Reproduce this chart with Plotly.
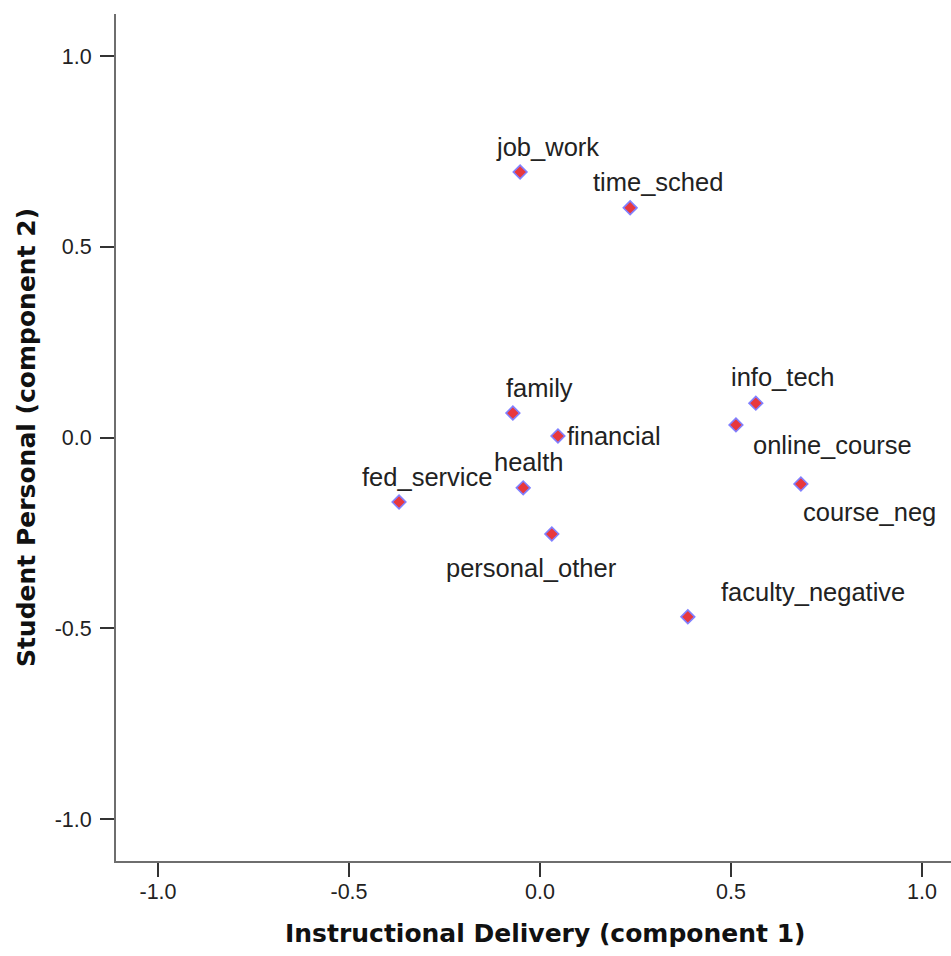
import plotly.graph_objects as go

labels = ["job_work", "time_sched", "family", "financial", "health", "fed_service",
          "personal_other", "info_tech", "online_course", "course_neg", "faculty_negative"]
comp1 = [-0.052, 0.236, -0.071, 0.047, -0.044, -0.369, 0.031, 0.565, 0.513, 0.683, 0.387]
comp2 = [0.696, 0.602, 0.064, 0.004, -0.132, -0.169, -0.253, 0.090, 0.033, -0.122, -0.470]
xticks = [-1.0, -0.5, 0.0, 0.5, 1.0]
yticks = [-1.0, -0.5, 0.0, 0.5, 1.0]

# label placement offsets in pixels (style only)
offsets = {
    "job_work": (27, 25, "center"),
    "time_sched": (28, 26, "center"),
    "family": (27, 25, "center"),
    "financial": (7, 0, "left"),
    "health": (5, 26, "center"),
    "fed_service": (28, 25, "center"),
    "personal_other": (-20, -34, "center"),
    "info_tech": (27, 26, "center"),
    "online_course": (97, -20, "center"),
    "course_neg": (69, -28, "center"),
    "faculty_negative": (125, 25, "center"),
}

fig = go.Figure()
fig.add_trace(go.Scatter(
    x=comp1, y=comp2, mode="markers",
    marker=dict(symbol="diamond", size=10.5, color="#e8383d",
                line=dict(color="#8080ff", width=1.6)),
    hoverinfo="text", text=labels, showlegend=False,
))

for lab, xv, yv in zip(labels, comp1, comp2):
    dx, dy, anc = offsets[lab]
    fig.add_annotation(x=xv, y=yv, text=lab, showarrow=False,
                       xshift=dx, yshift=dy, xanchor=anc, yanchor="middle",
                       font=dict(family="Liberation Sans, Arial", size=25.5, color="#222222"))

title_font = dict(family="DejaVu Sans", size=25, color="#111111", weight="bold")

axis_common = dict(
    showgrid=False, zeroline=False, showline=True, linecolor="#6e6e6e", linewidth=2,
    ticks="outside", ticklen=14, tickwidth=2, tickcolor="#333333",
    tickfont=dict(family="Liberation Sans, Arial", size=21.5, color="#222222"),
)

fig.update_layout(
    width=951, height=956,
    margin=dict(l=116, r=0, t=14, b=95),
    plot_bgcolor="white", paper_bgcolor="white",
    xaxis=dict(range=[-1.11, 1.076], tickvals=xticks,
               ticktext=[f"{v:.1f}" for v in xticks],
               ticklabelstandoff=-4,
               **axis_common),
    yaxis=dict(range=[-1.11, 1.11], tickvals=yticks,
               ticktext=[f"{v:.1f}" for v in yticks],
               ticklabelstandoff=4,
               title=dict(text="Student Personal (component 2)", font=title_font, standoff=12),
               **axis_common),
)

fig.add_annotation(xref="paper", yref="paper", x=0.514, y=0, yshift=-72,
                   xanchor="center", yanchor="middle", showarrow=False,
                   text="<b>Instructional Delivery (component 1)</b>", font=title_font)

fig.write_html("out.html")
